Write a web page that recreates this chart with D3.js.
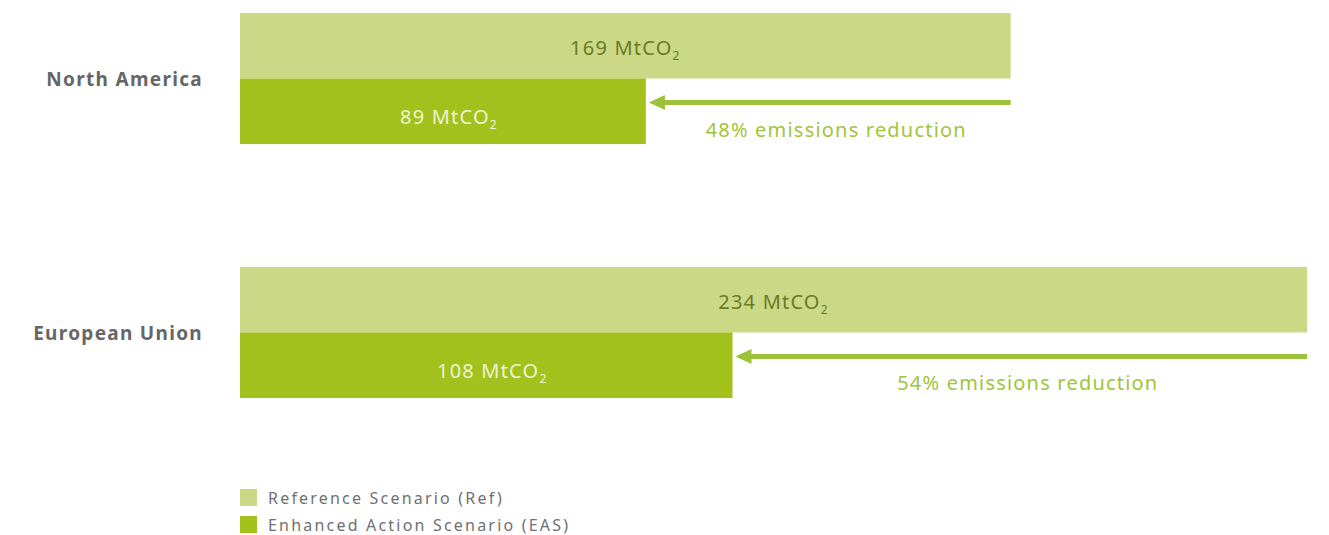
<!DOCTYPE html>
<html>
<head>
<meta charset="utf-8">
<script src="https://cdn.jsdelivr.net/npm/d3@7"></script>
<style>
  html, body { margin: 0; padding: 0; background: #fff; }
  svg { display: block; font-family: 'Noto Sans', 'Open Sans', sans-serif; }
</style>
</head>
<body>
<div id="chart"></div>
<script>
const regions = ['North America', 'European Union']
const series = ['Reference Scenario (Ref)', 'Enhanced Action Scenario (EAS)']
const refValues = [169, 234]
const easValues = [89, 108]
const reductionLabels = ['48% emissions reduction', '54% emissions reduction']

const width = 1329
const height = 535
const colors = { ref: '#cbd886', eas: '#a3c11c', arrow: '#9cc23a', refText: '#6a7b25', easText: '#eef3d2', reduction: '#a2c43a', label: '#666666', legend: '#707070' }

const svg = d3.select('#chart').append('svg')
  .attr('width', width)
  .attr('height', height)

const x = d3.scaleLinear().domain([0, 235.3]).range([240, 1313])
const y = d3.scaleBand().domain(regions).range([13, 398]).paddingInner(0.484).paddingOuter(0)
const sub = d3.scaleBand().domain(['ref', 'eas']).range([0, y.bandwidth()])

const rows = regions.map((region, i) => ({ region, ref: refValues[i], eas: easValues[i], reduction: reductionLabels[i] }))

function mtco2 (sel, value) {
  sel.append('tspan').text(value + ' MtCO')
  sel.append('tspan').attr('font-size', 12).attr('dy', 5).text('2')
}

const g = svg.selectAll('g.row').data(rows).join('g')
  .attr('class', 'row')
  .attr('transform', d => `translate(0,${y(d.region)})`)

g.append('text')
  .attr('x', 203)
  .attr('y', sub.bandwidth() + 1)
  .attr('dy', '0.35em')
  .attr('text-anchor', 'end')
  .attr('font-size', 19)
  .attr('font-weight', 700)
  .attr('letter-spacing', 1.3)
  .attr('fill', colors.label)
  .text(d => d.region)

g.append('rect')
  .attr('x', x(0)).attr('y', sub('ref'))
  .attr('width', d => x(d.ref) - x(0)).attr('height', sub.bandwidth())
  .attr('fill', colors.ref)

g.append('rect')
  .attr('x', x(0)).attr('y', sub('eas'))
  .attr('width', d => x(d.eas) - x(0)).attr('height', sub.bandwidth())
  .attr('fill', colors.eas)

g.append('text')
  .attr('x', d => (x(0) + x(d.ref)) / 2)
  .attr('y', sub('ref') + sub.bandwidth() / 2 + 2)
  .attr('dy', '0.35em')
  .attr('text-anchor', 'middle')
  .attr('font-size', 20)
  .attr('letter-spacing', 1.2)
  .attr('fill', colors.refText)
  .each(function (d) { mtco2(d3.select(this), d.ref) })

g.append('text')
  .attr('x', d => (x(0) + x(d.eas)) / 2 + 6)
  .attr('y', sub('eas') + sub.bandwidth() / 2 + 6)
  .attr('dy', '0.35em')
  .attr('text-anchor', 'middle')
  .attr('font-size', 20)
  .attr('letter-spacing', 1.2)
  .attr('fill', colors.easText)
  .each(function (d) { mtco2(d3.select(this), d.eas) })

// arrow from end of ref bar back to end of eas bar
const arrowY = sub('eas') + 24
g.append('line')
  .attr('x1', d => x(d.ref))
  .attr('x2', d => x(d.eas) + 14)
  .attr('y1', arrowY)
  .attr('y2', arrowY)
  .attr('stroke', colors.arrow)
  .attr('stroke-width', 5)

g.append('path')
  .attr('d', d => {
    const tip = x(d.eas) + 3
    return `M${tip},${arrowY} L${tip + 16},${arrowY - 7.5} L${tip + 16},${arrowY + 7.5} Z`
  })
  .attr('fill', colors.arrow)

g.append('text')
  .attr('x', d => (x(d.ref) + x(d.eas)) / 2 + 8)
  .attr('y', sub('eas') + 51)
  .attr('dy', '0.35em')
  .attr('text-anchor', 'middle')
  .attr('font-size', 20)
  .attr('letter-spacing', 1.2)
  .attr('fill', colors.reduction)
  .text(d => d.reduction)

const legend = svg.append('g').attr('transform', 'translate(240,489)')
const item = legend.selectAll('g').data(series).join('g')
  .attr('transform', (d, i) => `translate(0,${i * 27})`)
item.append('rect')
  .attr('width', 17).attr('height', 17)
  .attr('fill', (d, i) => i === 0 ? colors.ref : colors.eas)
item.append('text')
  .attr('x', 28).attr('y', 9)
  .attr('dy', '0.35em')
  .attr('font-size', 16)
  .attr('letter-spacing', 2.2)
  .attr('fill', colors.legend)
  .text(d => d)
</script>
</body>
</html>
